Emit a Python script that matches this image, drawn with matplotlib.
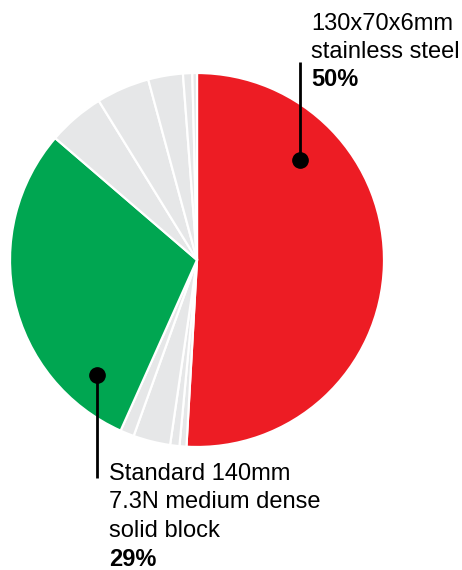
import matplotlib
matplotlib.use("Agg")
import matplotlib.pyplot as plt

# Slice shares (clockwise from 12 o'clock)
values = [50.9, 0.6, 0.8, 3.2, 1.2, 29.6, 4.9, 4.6, 3.0, 0.8, 0.4]
RED, GREEN, GREY = "#ED1C24", "#00A651", "#E6E7E8"
colors = [RED, GREY, GREY, GREY, GREY, GREEN, GREY, GREY, GREY, GREY, GREY]

label_top = ["130x70x6mm", "stainless steel", "50%"]
label_bottom = ["Standard 140mm", "7.3N medium dense", "solid block", "29%"]

plt.rcParams['font.family'] = ['Liberation Sans', 'DejaVu Sans']

W, H = 462, 570
fig = plt.figure(figsize=(W / 100, H / 100), dpi=100)
ax = fig.add_axes([0, 0, 1, 1])
cx, cy, r = 197, H - 260, 187
ax.pie(values, colors=colors, startangle=90, counterclock=False,
       center=(cx, cy), radius=r, frame=True,
       wedgeprops=dict(edgecolor="white", linewidth=1.6))
ax.set_xlim(0, W)
ax.set_ylim(0, H)
ax.set_aspect("auto")
ax.axis("off")


def Y(y):
    return H - y


fs = 17
# top annotation
ax.plot([300, 300], [Y(62), Y(160)], color="black", lw=2, solid_capstyle="butt", zorder=5)
ax.plot([300], [Y(160)], "o", color="black", ms=11, zorder=6)
y0 = 13
for i, t in enumerate(label_top):
    ax.text(311, Y(y0 + i * 27.5), t, fontsize=fs, va="top", ha="left",
            fontweight="bold" if i == len(label_top) - 1 else "normal", color="black")

# bottom annotation
ax.plot([97, 97], [Y(375), Y(478)], color="black", lw=2, solid_capstyle="butt", zorder=5)
ax.plot([97], [Y(375)], "o", color="black", ms=11, zorder=6)
y1 = 463
for i, t in enumerate(label_bottom):
    ax.text(109, Y(y1 + i * 28.5), t, fontsize=fs, va="top", ha="left",
            fontweight="bold" if i == len(label_bottom) - 1 else "normal", color="black")

fig.savefig("out.png", dpi=100)
